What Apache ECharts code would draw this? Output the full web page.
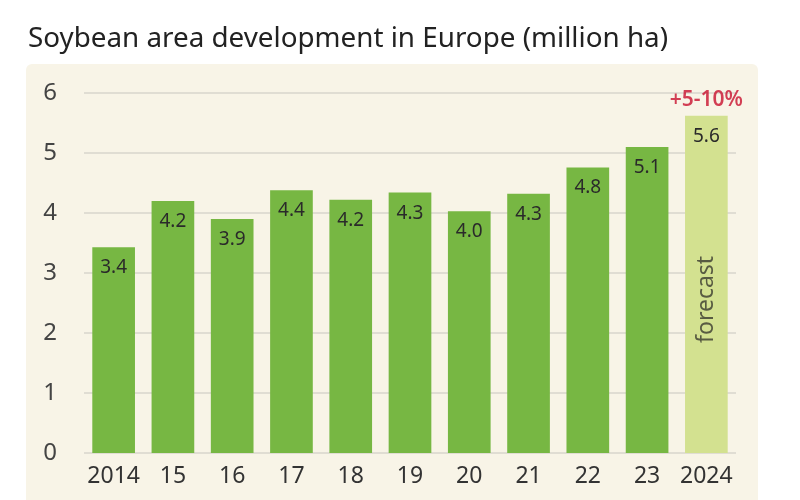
<!DOCTYPE html>
<html>
<head>
    <meta charset="utf-8">
    <title>Soybean area development in Europe</title>
    <script src="https://cdn.jsdelivr.net/npm/echarts@6/dist/echarts.min.js"></script>
    <style>
        html, body { margin: 0; padding: 0; background: #fff; }
    </style>
</head>
<body>
    <div id="main" style="width: 800px;height:500px;"></div>
    <script type="text/javascript">
        // data
        var years = ['2014', '15', '16', '17', '18', '19', '20', '21', '22', '23', '2024'];
        var area = [3.43, 4.2, 3.9, 4.38, 4.22, 4.34, 4.03, 4.32, 4.76, 5.1, 5.62];
        var forecastIndex = 10;
        var forecastNote = '+5-10%';
        var forecastText = 'forecast';

        var FONT = '"Noto Sans", sans-serif';
        var green = '#77b743';
        var lightGreen = '#d3e190';

        var dom = document.getElementById('main');
        var myChart = echarts.init(dom, null, { renderer: 'canvas' });

        var barData = area.map(function (v, i) {
            return {
                value: v,
                itemStyle: { color: i === forecastIndex ? lightGreen : green }
            };
        });

        var option = {
            backgroundColor: '#fff',
            animation: false,
            title: {
                text: 'Soybean area development in Europe (million ha)',
                left: 23,
                top: 20,
                textStyle: {
                    fontFamily: FONT,
                    fontSize: 27.8,
                    fontWeight: 'normal',
                    color: '#222'
                }
            },
            // cream panel behind the plot
            graphic: [{
                type: 'rect',
                left: 26,
                top: 64,
                z: -10,
                shape: { width: 732, height: 460, r: 6 },
                style: { fill: '#f8f4e7' }
            }],
            grid: {
                left: 84,
                right: 64,
                top: 93,
                bottom: 47,
                containLabel: false
            },
            xAxis: {
                type: 'category',
                data: years,
                axisLine: { show: false },
                axisTick: { show: false },
                axisLabel: {
                    interval: 0,
                    margin: 12,
                    fontFamily: FONT,
                    fontSize: 23,
                    color: '#333'
                }
            },
            yAxis: {
                type: 'value',
                min: 0,
                max: 6,
                interval: 1,
                axisLine: { show: false },
                axisTick: { show: false },
                axisLabel: {
                    margin: 27,
                    fontFamily: FONT,
                    fontSize: 24,
                    color: '#444'
                },
                splitLine: { lineStyle: { color: '#d9d6cc', width: 1.5 } }
            },
            series: [{
                type: 'bar',
                data: barData,
                barWidth: '72%',
                label: {
                    show: true,
                    position: 'insideTop',
                    distance: 11,
                    fontFamily: FONT,
                    fontSize: 19,
                    color: '#2a2a2a',
                    formatter: function (p) { return p.value.toFixed(1); }
                }
            }, {
                // annotations on the forecast bar
                type: 'scatter',
                symbolSize: 1,
                silent: true,
                itemStyle: { color: 'rgba(0,0,0,0)' },
                data: [{
                    value: [forecastIndex, area[forecastIndex]],
                    label: {
                        show: true,
                        position: 'top',
                        distance: 5,
                        formatter: forecastNote,
                        fontFamily: FONT,
                        fontSize: 21,
                        fontWeight: 600,
                        color: '#c8102e'
                    }
                }, {
                    value: [forecastIndex, 2.56],
                    label: {
                        show: true,
                        position: 'inside',
                        rotate: 90,
                        formatter: forecastText,
                        fontFamily: FONT,
                        fontSize: 23,
                        color: '#3a3a2e'
                    }
                }]
            }]
        };

        myChart.setOption(option, true);
    </script>
</body>
</html>
